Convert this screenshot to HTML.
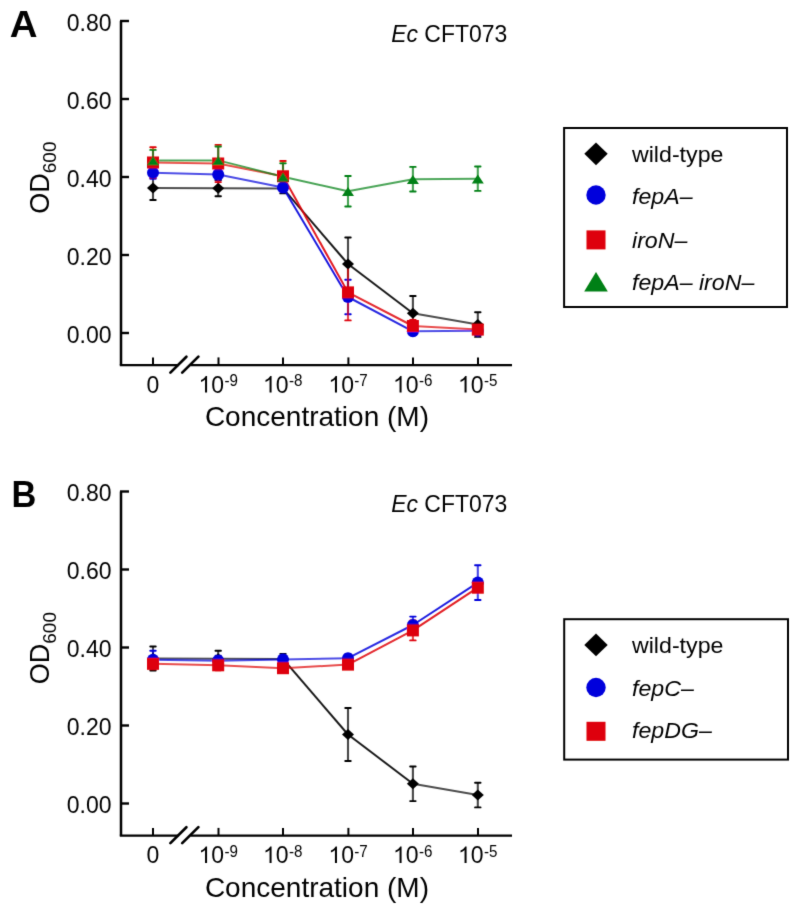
<!DOCTYPE html>
<html><head><meta charset="utf-8"><title>Figure</title>
<style>
html,body{margin:0;padding:0;background:#fff;}
body{width:800px;height:915px;overflow:hidden;}
svg{display:block;}
svg text{font-family:"Liberation Sans", sans-serif;fill:#000;}
</style></head>
<body>
<svg width="800" height="915" viewBox="0 0 800 915">
<defs><filter id="soft" x="0" y="0" width="800" height="915" filterUnits="userSpaceOnUse"><feConvolveMatrix order="3" kernelMatrix="0.01134 0.08382 0.01134 0.08382 0.61935 0.08382 0.01134 0.08382 0.01134" divisor="1" edgeMode="none"/></filter></defs>
<rect width="800" height="915" fill="#fff"/>
<g filter="url(#soft)">
<text transform="translate(9.7 36.60) scale(1.04 1)" font-size="37" font-weight="bold">A</text>
<path d="M121 21.00 V365.20" stroke="#000" stroke-width="2.5" fill="none"/>
<path d="M120 21.00 H129" stroke="#000" stroke-width="2.4"/>
<text x="111.6" y="30.80" font-size="23" text-anchor="end">0.80</text>
<path d="M120 99.00 H129" stroke="#000" stroke-width="2.4"/>
<text x="111.6" y="108.80" font-size="23" text-anchor="end">0.60</text>
<path d="M120 177.00 H129" stroke="#000" stroke-width="2.4"/>
<text x="111.6" y="186.80" font-size="23" text-anchor="end">0.40</text>
<path d="M120 255.00 H129" stroke="#000" stroke-width="2.4"/>
<text x="111.6" y="264.80" font-size="23" text-anchor="end">0.20</text>
<path d="M120 333.00 H129" stroke="#000" stroke-width="2.4"/>
<text x="111.6" y="342.80" font-size="23" text-anchor="end">0.00</text>
<path d="M119.8 365.10 H178.5 M190.5 365.10 H512" stroke="#000" stroke-width="2.4" fill="none"/>
<path d="M170.4 372.60 L186.4 356.80 M182.2 372.60 L198.4 356.60" stroke="#000" stroke-width="2.7" stroke-linecap="round" fill="none"/>
<path d="M153 365.10 V357.40" stroke="#000" stroke-width="2"/>
<path d="M218.5 365.10 V357.40" stroke="#000" stroke-width="2"/>
<path d="M283 365.10 V357.40" stroke="#000" stroke-width="2"/>
<path d="M348.4 365.10 V357.40" stroke="#000" stroke-width="2"/>
<path d="M413 365.10 V357.40" stroke="#000" stroke-width="2"/>
<path d="M478 365.10 V357.40" stroke="#000" stroke-width="2"/>
<text x="153" y="392.50" font-size="23" text-anchor="middle">0</text>
<path transform="translate(198.50 392.50) scale(0.01123 -0.01123)" d="M763 0H583V1147Q518 1085 412.5 1023.0Q307 961 223 930V1104Q374 1175 487.0 1276.0Q600 1377 647 1472H763V0Z" fill="#000"/>
<text x="211.29" y="392.50" font-size="23">0</text>
<text transform="translate(224.40 386.20) scale(0.92 1)" font-size="16.5">-9</text>
<path transform="translate(263.00 392.50) scale(0.01123 -0.01123)" d="M763 0H583V1147Q518 1085 412.5 1023.0Q307 961 223 930V1104Q374 1175 487.0 1276.0Q600 1377 647 1472H763V0Z" fill="#000"/>
<text x="275.79" y="392.50" font-size="23">0</text>
<text transform="translate(288.90 386.20) scale(0.92 1)" font-size="16.5">-8</text>
<path transform="translate(328.40 392.50) scale(0.01123 -0.01123)" d="M763 0H583V1147Q518 1085 412.5 1023.0Q307 961 223 930V1104Q374 1175 487.0 1276.0Q600 1377 647 1472H763V0Z" fill="#000"/>
<text x="341.19" y="392.50" font-size="23">0</text>
<text transform="translate(354.30 386.20) scale(0.92 1)" font-size="16.5">-7</text>
<path transform="translate(393.00 392.50) scale(0.01123 -0.01123)" d="M763 0H583V1147Q518 1085 412.5 1023.0Q307 961 223 930V1104Q374 1175 487.0 1276.0Q600 1377 647 1472H763V0Z" fill="#000"/>
<text x="405.79" y="392.50" font-size="23">0</text>
<text transform="translate(418.90 386.20) scale(0.92 1)" font-size="16.5">-6</text>
<path transform="translate(458.00 392.50) scale(0.01123 -0.01123)" d="M763 0H583V1147Q518 1085 412.5 1023.0Q307 961 223 930V1104Q374 1175 487.0 1276.0Q600 1377 647 1472H763V0Z" fill="#000"/>
<text x="470.79" y="392.50" font-size="23">0</text>
<text transform="translate(483.90 386.20) scale(0.92 1)" font-size="16.5">-5</text>
<text transform="translate(204.9 426.00) scale(1.0 1)" font-size="28">Concentration (M)</text>
<text transform="translate(49 213.70) rotate(-90)" font-size="27">OD<tspan font-size="19" dy="6.5">600</tspan></text>
<text transform="translate(391.2 41.70) scale(0.985 1)" font-size="23.3"><tspan font-style="italic">Ec</tspan> CFT073</text>
<path d="M153 176.00 V200.00" stroke="#000000" stroke-opacity="0.72" stroke-width="2.1" fill="none"/>
<path d="M150.25 176.00 H155.75 M150.25 200.00 H155.75" stroke="#000000" stroke-width="1.9" stroke-linecap="round" fill="none"/>
<path d="M218.2 180.20 V196.20" stroke="#000000" stroke-opacity="0.72" stroke-width="2.1" fill="none"/>
<path d="M215.45 180.20 H220.95 M215.45 196.20 H220.95" stroke="#000000" stroke-width="1.9" stroke-linecap="round" fill="none"/>
<path d="M283 183.40 V193.40" stroke="#000000" stroke-opacity="0.72" stroke-width="2.1" fill="none"/>
<path d="M280.25 183.40 H285.75 M280.25 193.40 H285.75" stroke="#000000" stroke-width="1.9" stroke-linecap="round" fill="none"/>
<path d="M348.0 237.50 V290.50" stroke="#000000" stroke-opacity="0.72" stroke-width="2.1" fill="none"/>
<path d="M345.25 237.50 H350.75 M345.25 290.50 H350.75" stroke="#000000" stroke-width="1.9" stroke-linecap="round" fill="none"/>
<path d="M412.9 296.00 V330.60" stroke="#000000" stroke-opacity="0.72" stroke-width="2.1" fill="none"/>
<path d="M410.15 296.00 H415.65 M410.15 330.60 H415.65" stroke="#000000" stroke-width="1.9" stroke-linecap="round" fill="none"/>
<path d="M477.8 312.30 V336.90" stroke="#000000" stroke-opacity="0.72" stroke-width="2.1" fill="none"/>
<path d="M475.05 312.30 H480.55 M475.05 336.90 H480.55" stroke="#000000" stroke-width="1.9" stroke-linecap="round" fill="none"/>
<path d="M153 166.70 V178.70" stroke="#0000dc" stroke-opacity="0.72" stroke-width="2.1" fill="none"/>
<path d="M150.25 166.70 H155.75 M150.25 178.70 H155.75" stroke="#0000dc" stroke-width="1.9" stroke-linecap="round" fill="none"/>
<path d="M218.2 169.40 V179.40" stroke="#0000dc" stroke-opacity="0.72" stroke-width="2.1" fill="none"/>
<path d="M215.45 169.40 H220.95 M215.45 179.40 H220.95" stroke="#0000dc" stroke-width="1.9" stroke-linecap="round" fill="none"/>
<path d="M283 183.40 V191.40" stroke="#0000dc" stroke-opacity="0.72" stroke-width="2.1" fill="none"/>
<path d="M280.25 183.40 H285.75 M280.25 191.40 H285.75" stroke="#0000dc" stroke-width="1.9" stroke-linecap="round" fill="none"/>
<path d="M348.0 279.80 V314.20" stroke="#0000dc" stroke-opacity="0.72" stroke-width="2.1" fill="none"/>
<path d="M345.25 279.80 H350.75 M345.25 314.20 H350.75" stroke="#0000dc" stroke-width="1.9" stroke-linecap="round" fill="none"/>
<path d="M412.9 327.30 V335.30" stroke="#0000dc" stroke-opacity="0.72" stroke-width="2.1" fill="none"/>
<path d="M410.15 327.30 H415.65 M410.15 335.30 H415.65" stroke="#0000dc" stroke-width="1.9" stroke-linecap="round" fill="none"/>
<path d="M477.8 326.70 V334.70" stroke="#0000dc" stroke-opacity="0.72" stroke-width="2.1" fill="none"/>
<path d="M475.05 326.70 H480.55 M475.05 334.70 H480.55" stroke="#0000dc" stroke-width="1.9" stroke-linecap="round" fill="none"/>
<path d="M153 147.30 V177.70" stroke="#de0508" stroke-opacity="0.72" stroke-width="2.1" fill="none"/>
<path d="M150.25 147.30 H155.75 M150.25 177.70 H155.75" stroke="#de0508" stroke-width="1.9" stroke-linecap="round" fill="none"/>
<path d="M218.2 144.90 V182.10" stroke="#de0508" stroke-opacity="0.72" stroke-width="2.1" fill="none"/>
<path d="M215.45 144.90 H220.95 M215.45 182.10 H220.95" stroke="#de0508" stroke-width="1.9" stroke-linecap="round" fill="none"/>
<path d="M283 161.00 V191.60" stroke="#de0508" stroke-opacity="0.72" stroke-width="2.1" fill="none"/>
<path d="M280.25 161.00 H285.75 M280.25 191.60 H285.75" stroke="#de0508" stroke-width="1.9" stroke-linecap="round" fill="none"/>
<path d="M348.0 264.40 V320.40" stroke="#de0508" stroke-opacity="0.72" stroke-width="2.1" fill="none"/>
<path d="M345.25 264.40 H350.75 M345.25 320.40 H350.75" stroke="#de0508" stroke-width="1.9" stroke-linecap="round" fill="none"/>
<path d="M412.9 320.00 V332.00" stroke="#de0508" stroke-opacity="0.72" stroke-width="2.1" fill="none"/>
<path d="M410.15 320.00 H415.65 M410.15 332.00 H415.65" stroke="#de0508" stroke-width="1.9" stroke-linecap="round" fill="none"/>
<path d="M477.8 324.60 V334.60" stroke="#de0508" stroke-opacity="0.72" stroke-width="2.1" fill="none"/>
<path d="M475.05 324.60 H480.55 M475.05 334.60 H480.55" stroke="#de0508" stroke-width="1.9" stroke-linecap="round" fill="none"/>
<path d="M153 149.90 V171.30" stroke="#008012" stroke-opacity="0.72" stroke-width="2.1" fill="none"/>
<path d="M150.25 149.90 H155.75 M150.25 171.30 H155.75" stroke="#008012" stroke-width="1.9" stroke-linecap="round" fill="none"/>
<path d="M218.2 146.50 V174.30" stroke="#008012" stroke-opacity="0.72" stroke-width="2.1" fill="none"/>
<path d="M215.45 146.50 H220.95 M215.45 174.30 H220.95" stroke="#008012" stroke-width="1.9" stroke-linecap="round" fill="none"/>
<path d="M283 163.30 V190.30" stroke="#008012" stroke-opacity="0.72" stroke-width="2.1" fill="none"/>
<path d="M280.25 163.30 H285.75 M280.25 190.30 H285.75" stroke="#008012" stroke-width="1.9" stroke-linecap="round" fill="none"/>
<path d="M348.0 176.05 V206.55" stroke="#008012" stroke-opacity="0.72" stroke-width="2.1" fill="none"/>
<path d="M345.25 176.05 H350.75 M345.25 206.55 H350.75" stroke="#008012" stroke-width="1.9" stroke-linecap="round" fill="none"/>
<path d="M412.9 166.90 V191.50" stroke="#008012" stroke-opacity="0.72" stroke-width="2.1" fill="none"/>
<path d="M410.15 166.90 H415.65 M410.15 191.50 H415.65" stroke="#008012" stroke-width="1.9" stroke-linecap="round" fill="none"/>
<path d="M477.8 166.50 V190.90" stroke="#008012" stroke-opacity="0.72" stroke-width="2.1" fill="none"/>
<path d="M475.05 166.50 H480.55 M475.05 190.90 H480.55" stroke="#008012" stroke-width="1.9" stroke-linecap="round" fill="none"/>
<path d="M153 188.00 L218.2 188.20" stroke="#000000" stroke-opacity="0.700" stroke-width="2.0" fill="none"/>
<path d="M218.2 188.20 L283 188.40" stroke="#000000" stroke-opacity="0.700" stroke-width="2.0" fill="none"/>
<path d="M283 188.40 L348.0 264.00" stroke="#000000" stroke-opacity="0.900" stroke-width="2.0" fill="none"/>
<path d="M348.0 264.00 L412.9 313.30" stroke="#000000" stroke-opacity="0.900" stroke-width="2.0" fill="none"/>
<path d="M412.9 313.30 L477.8 324.60" stroke="#000000" stroke-opacity="0.700" stroke-width="2.0" fill="none"/>
<path d="M153 172.70 L218.2 174.40" stroke="#0000dc" stroke-opacity="0.700" stroke-width="2.0" fill="none"/>
<path d="M218.2 174.40 L283 187.40" stroke="#0000dc" stroke-opacity="0.711" stroke-width="2.0" fill="none"/>
<path d="M283 187.40 L348.0 297.00" stroke="#0000dc" stroke-opacity="0.900" stroke-width="2.0" fill="none"/>
<path d="M348.0 297.00 L412.9 331.30" stroke="#0000dc" stroke-opacity="0.843" stroke-width="2.0" fill="none"/>
<path d="M412.9 331.30 L477.8 330.70" stroke="#0000dc" stroke-opacity="0.700" stroke-width="2.0" fill="none"/>
<path d="M153 162.50 L218.2 163.50" stroke="#de0508" stroke-opacity="0.700" stroke-width="2.0" fill="none"/>
<path d="M218.2 163.50 L283 176.30" stroke="#de0508" stroke-opacity="0.709" stroke-width="2.0" fill="none"/>
<path d="M283 176.30 L348.0 292.40" stroke="#de0508" stroke-opacity="0.900" stroke-width="2.0" fill="none"/>
<path d="M348.0 292.40 L412.9 326.00" stroke="#de0508" stroke-opacity="0.839" stroke-width="2.0" fill="none"/>
<path d="M412.9 326.00 L477.8 329.60" stroke="#de0508" stroke-opacity="0.700" stroke-width="2.0" fill="none"/>
<path d="M153 160.60 L218.2 160.40" stroke="#008012" stroke-opacity="0.700" stroke-width="2.0" fill="none"/>
<path d="M218.2 160.40 L283 176.80" stroke="#008012" stroke-opacity="0.734" stroke-width="2.0" fill="none"/>
<path d="M283 176.80 L348.0 191.30" stroke="#008012" stroke-opacity="0.721" stroke-width="2.0" fill="none"/>
<path d="M348.0 191.30 L412.9 179.20" stroke="#008012" stroke-opacity="0.704" stroke-width="2.0" fill="none"/>
<path d="M412.9 179.20 L477.8 178.70" stroke="#008012" stroke-opacity="0.700" stroke-width="2.0" fill="none"/>
<path d="M147.00 188.00 L153.00 182.50 L159.00 188.00 L153.00 193.50 Z" fill="#000000"/>
<path d="M212.20 188.20 L218.20 182.70 L224.20 188.20 L218.20 193.70 Z" fill="#000000"/>
<path d="M277.00 188.40 L283.00 182.90 L289.00 188.40 L283.00 193.90 Z" fill="#000000"/>
<path d="M342.00 264.00 L348.00 258.50 L354.00 264.00 L348.00 269.50 Z" fill="#000000"/>
<path d="M406.90 313.30 L412.90 307.80 L418.90 313.30 L412.90 318.80 Z" fill="#000000"/>
<path d="M471.80 324.60 L477.80 319.10 L483.80 324.60 L477.80 330.10 Z" fill="#000000"/>
<circle cx="153" cy="172.70" r="6.00" fill="#0000dc"/>
<circle cx="218.2" cy="174.40" r="6.00" fill="#0000dc"/>
<circle cx="283" cy="187.40" r="6.00" fill="#0000dc"/>
<circle cx="348.0" cy="297.00" r="6.00" fill="#0000dc"/>
<circle cx="412.9" cy="331.30" r="6.00" fill="#0000dc"/>
<circle cx="477.8" cy="330.70" r="6.00" fill="#0000dc"/>
<rect x="147.00" y="156.50" width="12.00" height="12.00" fill="#de0508"/>
<rect x="212.20" y="157.50" width="12.00" height="12.00" fill="#de0508"/>
<rect x="277.00" y="170.30" width="12.00" height="12.00" fill="#de0508"/>
<rect x="342.00" y="286.40" width="12.00" height="12.00" fill="#de0508"/>
<rect x="406.90" y="320.00" width="12.00" height="12.00" fill="#de0508"/>
<rect x="471.80" y="323.60" width="12.00" height="12.00" fill="#de0508"/>
<path d="M147.00 165.30 L153.00 156.30 L159.00 165.30 Z" fill="#008012"/>
<path d="M212.20 165.10 L218.20 156.10 L224.20 165.10 Z" fill="#008012"/>
<path d="M277.00 181.50 L283.00 172.50 L289.00 181.50 Z" fill="#008012"/>
<path d="M342.00 196.00 L348.00 187.00 L354.00 196.00 Z" fill="#008012"/>
<path d="M406.90 183.90 L412.90 174.90 L418.90 183.90 Z" fill="#008012"/>
<path d="M471.80 183.40 L477.80 174.40 L483.80 183.40 Z" fill="#008012"/>
<rect x="564.1" y="128.00" width="222.89999999999998" height="179" fill="none" stroke="#000" stroke-width="2"/>
<path d="M584.30 153.80 L596.00 142.40 L607.70 153.80 L596.00 165.20 Z" fill="#000000"/>
<text transform="translate(632 162.20) scale(1.03 1)" font-size="22.5">wild-type</text>
<circle cx="596" cy="195.00" r="9.70" fill="#0000dc"/>
<text transform="translate(632 204.20) scale(1.03 1)" font-size="22.5"><tspan font-style="italic">fepA–</tspan></text>
<rect x="586.50" y="230.40" width="19.00" height="19.00" fill="#de0508"/>
<text transform="translate(632 248.20) scale(1.03 1)" font-size="22.5"><tspan font-style="italic">iroN–</tspan></text>
<path d="M584.20 291.60 L596.00 272.00 L607.80 291.60 Z" fill="#008012"/>
<text transform="translate(632 289.60) scale(1.03 1)" font-size="22.5"><tspan font-style="italic">fepA– iroN–</tspan></text>
<text transform="translate(11.6 507.10) scale(0.93 1)" font-size="37" font-weight="bold">B</text>
<path d="M121 491.50 V835.70" stroke="#000" stroke-width="2.5" fill="none"/>
<path d="M120 491.50 H129" stroke="#000" stroke-width="2.4"/>
<text x="111.6" y="501.30" font-size="23" text-anchor="end">0.80</text>
<path d="M120 569.50 H129" stroke="#000" stroke-width="2.4"/>
<text x="111.6" y="579.30" font-size="23" text-anchor="end">0.60</text>
<path d="M120 647.50 H129" stroke="#000" stroke-width="2.4"/>
<text x="111.6" y="657.30" font-size="23" text-anchor="end">0.40</text>
<path d="M120 725.50 H129" stroke="#000" stroke-width="2.4"/>
<text x="111.6" y="735.30" font-size="23" text-anchor="end">0.20</text>
<path d="M120 803.50 H129" stroke="#000" stroke-width="2.4"/>
<text x="111.6" y="813.30" font-size="23" text-anchor="end">0.00</text>
<path d="M119.8 835.60 H178.5 M190.5 835.60 H512" stroke="#000" stroke-width="2.4" fill="none"/>
<path d="M170.4 843.10 L186.4 827.30 M182.2 843.10 L198.4 827.10" stroke="#000" stroke-width="2.7" stroke-linecap="round" fill="none"/>
<path d="M153 835.60 V827.90" stroke="#000" stroke-width="2"/>
<path d="M218.5 835.60 V827.90" stroke="#000" stroke-width="2"/>
<path d="M283 835.60 V827.90" stroke="#000" stroke-width="2"/>
<path d="M348.4 835.60 V827.90" stroke="#000" stroke-width="2"/>
<path d="M413 835.60 V827.90" stroke="#000" stroke-width="2"/>
<path d="M478 835.60 V827.90" stroke="#000" stroke-width="2"/>
<text x="153" y="863.00" font-size="23" text-anchor="middle">0</text>
<path transform="translate(198.50 863.00) scale(0.01123 -0.01123)" d="M763 0H583V1147Q518 1085 412.5 1023.0Q307 961 223 930V1104Q374 1175 487.0 1276.0Q600 1377 647 1472H763V0Z" fill="#000"/>
<text x="211.29" y="863.00" font-size="23">0</text>
<text transform="translate(224.40 856.70) scale(0.92 1)" font-size="16.5">-9</text>
<path transform="translate(263.00 863.00) scale(0.01123 -0.01123)" d="M763 0H583V1147Q518 1085 412.5 1023.0Q307 961 223 930V1104Q374 1175 487.0 1276.0Q600 1377 647 1472H763V0Z" fill="#000"/>
<text x="275.79" y="863.00" font-size="23">0</text>
<text transform="translate(288.90 856.70) scale(0.92 1)" font-size="16.5">-8</text>
<path transform="translate(328.40 863.00) scale(0.01123 -0.01123)" d="M763 0H583V1147Q518 1085 412.5 1023.0Q307 961 223 930V1104Q374 1175 487.0 1276.0Q600 1377 647 1472H763V0Z" fill="#000"/>
<text x="341.19" y="863.00" font-size="23">0</text>
<text transform="translate(354.30 856.70) scale(0.92 1)" font-size="16.5">-7</text>
<path transform="translate(393.00 863.00) scale(0.01123 -0.01123)" d="M763 0H583V1147Q518 1085 412.5 1023.0Q307 961 223 930V1104Q374 1175 487.0 1276.0Q600 1377 647 1472H763V0Z" fill="#000"/>
<text x="405.79" y="863.00" font-size="23">0</text>
<text transform="translate(418.90 856.70) scale(0.92 1)" font-size="16.5">-6</text>
<path transform="translate(458.00 863.00) scale(0.01123 -0.01123)" d="M763 0H583V1147Q518 1085 412.5 1023.0Q307 961 223 930V1104Q374 1175 487.0 1276.0Q600 1377 647 1472H763V0Z" fill="#000"/>
<text x="470.79" y="863.00" font-size="23">0</text>
<text transform="translate(483.90 856.70) scale(0.92 1)" font-size="16.5">-5</text>
<text transform="translate(204.9 896.50) scale(1.0 1)" font-size="28">Concentration (M)</text>
<text transform="translate(49 684.20) rotate(-90)" font-size="27">OD<tspan font-size="19" dy="6.5">600</tspan></text>
<text transform="translate(391.2 512.20) scale(0.985 1)" font-size="23.3"><tspan font-style="italic">Ec</tspan> CFT073</text>
<path d="M153 646.50 V670.50" stroke="#000000" stroke-opacity="0.72" stroke-width="2.1" fill="none"/>
<path d="M150.25 646.50 H155.75 M150.25 670.50 H155.75" stroke="#000000" stroke-width="1.9" stroke-linecap="round" fill="none"/>
<path d="M218.2 650.70 V666.70" stroke="#000000" stroke-opacity="0.72" stroke-width="2.1" fill="none"/>
<path d="M215.45 650.70 H220.95 M215.45 666.70 H220.95" stroke="#000000" stroke-width="1.9" stroke-linecap="round" fill="none"/>
<path d="M283 653.90 V663.90" stroke="#000000" stroke-opacity="0.72" stroke-width="2.1" fill="none"/>
<path d="M280.25 653.90 H285.75 M280.25 663.90 H285.75" stroke="#000000" stroke-width="1.9" stroke-linecap="round" fill="none"/>
<path d="M348.0 708.00 V761.00" stroke="#000000" stroke-opacity="0.72" stroke-width="2.1" fill="none"/>
<path d="M345.25 708.00 H350.75 M345.25 761.00 H350.75" stroke="#000000" stroke-width="1.9" stroke-linecap="round" fill="none"/>
<path d="M412.9 766.50 V801.10" stroke="#000000" stroke-opacity="0.72" stroke-width="2.1" fill="none"/>
<path d="M410.15 766.50 H415.65 M410.15 801.10 H415.65" stroke="#000000" stroke-width="1.9" stroke-linecap="round" fill="none"/>
<path d="M477.8 782.80 V807.40" stroke="#000000" stroke-opacity="0.72" stroke-width="2.1" fill="none"/>
<path d="M475.05 782.80 H480.55 M475.05 807.40 H480.55" stroke="#000000" stroke-width="1.9" stroke-linecap="round" fill="none"/>
<path d="M153 650.80 V668.80" stroke="#0000dc" stroke-opacity="0.72" stroke-width="2.1" fill="none"/>
<path d="M150.25 650.80 H155.75 M150.25 668.80 H155.75" stroke="#0000dc" stroke-width="1.9" stroke-linecap="round" fill="none"/>
<path d="M218.2 655.80 V665.80" stroke="#0000dc" stroke-opacity="0.72" stroke-width="2.1" fill="none"/>
<path d="M215.45 655.80 H220.95 M215.45 665.80 H220.95" stroke="#0000dc" stroke-width="1.9" stroke-linecap="round" fill="none"/>
<path d="M283 655.60 V663.60" stroke="#0000dc" stroke-opacity="0.72" stroke-width="2.1" fill="none"/>
<path d="M280.25 655.60 H285.75 M280.25 663.60 H285.75" stroke="#0000dc" stroke-width="1.9" stroke-linecap="round" fill="none"/>
<path d="M348.0 654.20 V662.20" stroke="#0000dc" stroke-opacity="0.72" stroke-width="2.1" fill="none"/>
<path d="M345.25 654.20 H350.75 M345.25 662.20 H350.75" stroke="#0000dc" stroke-width="1.9" stroke-linecap="round" fill="none"/>
<path d="M412.9 616.60 V633.40" stroke="#0000dc" stroke-opacity="0.72" stroke-width="2.1" fill="none"/>
<path d="M410.15 616.60 H415.65 M410.15 633.40 H415.65" stroke="#0000dc" stroke-width="1.9" stroke-linecap="round" fill="none"/>
<path d="M477.8 565.20 V600.00" stroke="#0000dc" stroke-opacity="0.72" stroke-width="2.1" fill="none"/>
<path d="M475.05 565.20 H480.55 M475.05 600.00 H480.55" stroke="#0000dc" stroke-width="1.9" stroke-linecap="round" fill="none"/>
<path d="M153 658.80 V668.80" stroke="#de0508" stroke-opacity="0.72" stroke-width="2.1" fill="none"/>
<path d="M150.25 658.80 H155.75 M150.25 668.80 H155.75" stroke="#de0508" stroke-width="1.9" stroke-linecap="round" fill="none"/>
<path d="M218.2 660.30 V670.30" stroke="#de0508" stroke-opacity="0.72" stroke-width="2.1" fill="none"/>
<path d="M215.45 660.30 H220.95 M215.45 670.30 H220.95" stroke="#de0508" stroke-width="1.9" stroke-linecap="round" fill="none"/>
<path d="M283 664.20 V672.20" stroke="#de0508" stroke-opacity="0.72" stroke-width="2.1" fill="none"/>
<path d="M280.25 664.20 H285.75 M280.25 672.20 H285.75" stroke="#de0508" stroke-width="1.9" stroke-linecap="round" fill="none"/>
<path d="M348.0 660.60 V668.60" stroke="#de0508" stroke-opacity="0.72" stroke-width="2.1" fill="none"/>
<path d="M345.25 660.60 H350.75 M345.25 668.60 H350.75" stroke="#de0508" stroke-width="1.9" stroke-linecap="round" fill="none"/>
<path d="M412.9 620.40 V640.40" stroke="#de0508" stroke-opacity="0.72" stroke-width="2.1" fill="none"/>
<path d="M410.15 620.40 H415.65 M410.15 640.40 H415.65" stroke="#de0508" stroke-width="1.9" stroke-linecap="round" fill="none"/>
<path d="M477.8 583.70 V591.70" stroke="#de0508" stroke-opacity="0.72" stroke-width="2.1" fill="none"/>
<path d="M475.05 583.70 H480.55 M475.05 591.70 H480.55" stroke="#de0508" stroke-width="1.9" stroke-linecap="round" fill="none"/>
<path d="M153 658.50 L218.2 658.70" stroke="#000000" stroke-opacity="0.700" stroke-width="2.0" fill="none"/>
<path d="M218.2 658.70 L283 658.90" stroke="#000000" stroke-opacity="0.700" stroke-width="2.0" fill="none"/>
<path d="M283 658.90 L348.0 734.50" stroke="#000000" stroke-opacity="0.900" stroke-width="2.0" fill="none"/>
<path d="M348.0 734.50 L412.9 783.80" stroke="#000000" stroke-opacity="0.900" stroke-width="2.0" fill="none"/>
<path d="M412.9 783.80 L477.8 795.10" stroke="#000000" stroke-opacity="0.700" stroke-width="2.0" fill="none"/>
<path d="M153 659.80 L218.2 660.80" stroke="#0000dc" stroke-opacity="0.700" stroke-width="2.0" fill="none"/>
<path d="M218.2 660.80 L283 659.60" stroke="#0000dc" stroke-opacity="0.700" stroke-width="2.0" fill="none"/>
<path d="M283 659.60 L348.0 658.20" stroke="#0000dc" stroke-opacity="0.700" stroke-width="2.0" fill="none"/>
<path d="M348.0 658.20 L412.9 625.00" stroke="#0000dc" stroke-opacity="0.837" stroke-width="2.0" fill="none"/>
<path d="M412.9 625.00 L477.8 582.60" stroke="#0000dc" stroke-opacity="0.885" stroke-width="2.0" fill="none"/>
<path d="M153 663.80 L218.2 665.30" stroke="#de0508" stroke-opacity="0.700" stroke-width="2.0" fill="none"/>
<path d="M218.2 665.30 L283 668.20" stroke="#de0508" stroke-opacity="0.700" stroke-width="2.0" fill="none"/>
<path d="M283 668.20 L348.0 664.60" stroke="#de0508" stroke-opacity="0.700" stroke-width="2.0" fill="none"/>
<path d="M348.0 664.60 L412.9 630.40" stroke="#de0508" stroke-opacity="0.842" stroke-width="2.0" fill="none"/>
<path d="M412.9 630.40 L477.8 587.70" stroke="#de0508" stroke-opacity="0.887" stroke-width="2.0" fill="none"/>
<path d="M147.00 658.50 L153.00 653.00 L159.00 658.50 L153.00 664.00 Z" fill="#000000"/>
<path d="M212.20 658.70 L218.20 653.20 L224.20 658.70 L218.20 664.20 Z" fill="#000000"/>
<path d="M277.00 658.90 L283.00 653.40 L289.00 658.90 L283.00 664.40 Z" fill="#000000"/>
<path d="M342.00 734.50 L348.00 729.00 L354.00 734.50 L348.00 740.00 Z" fill="#000000"/>
<path d="M406.90 783.80 L412.90 778.30 L418.90 783.80 L412.90 789.30 Z" fill="#000000"/>
<path d="M471.80 795.10 L477.80 789.60 L483.80 795.10 L477.80 800.60 Z" fill="#000000"/>
<circle cx="153" cy="659.80" r="6.00" fill="#0000dc"/>
<circle cx="218.2" cy="660.80" r="6.00" fill="#0000dc"/>
<circle cx="283" cy="659.60" r="6.00" fill="#0000dc"/>
<circle cx="348.0" cy="658.20" r="6.00" fill="#0000dc"/>
<circle cx="412.9" cy="625.00" r="6.00" fill="#0000dc"/>
<circle cx="477.8" cy="582.60" r="6.00" fill="#0000dc"/>
<rect x="147.00" y="657.80" width="12.00" height="12.00" fill="#de0508"/>
<rect x="212.20" y="659.30" width="12.00" height="12.00" fill="#de0508"/>
<rect x="277.00" y="662.20" width="12.00" height="12.00" fill="#de0508"/>
<rect x="342.00" y="658.60" width="12.00" height="12.00" fill="#de0508"/>
<rect x="406.90" y="624.40" width="12.00" height="12.00" fill="#de0508"/>
<rect x="471.80" y="581.70" width="12.00" height="12.00" fill="#de0508"/>
<rect x="564.2" y="619.20" width="223.79999999999995" height="140.39999999999998" fill="none" stroke="#000" stroke-width="2"/>
<path d="M584.30 644.90 L596.00 633.50 L607.70 644.90 L596.00 656.30 Z" fill="#000000"/>
<text transform="translate(632 653.20) scale(1.03 1)" font-size="22.5">wild-type</text>
<circle cx="596" cy="687.50" r="9.70" fill="#0000dc"/>
<text transform="translate(632 695.60) scale(1.03 1)" font-size="22.5"><tspan font-style="italic">fepC–</tspan></text>
<rect x="586.50" y="721.80" width="19.00" height="19.00" fill="#de0508"/>
<text transform="translate(632 738.40) scale(1.03 1)" font-size="22.5"><tspan font-style="italic">fepDG–</tspan></text>
</g>
</svg>
</body></html>
